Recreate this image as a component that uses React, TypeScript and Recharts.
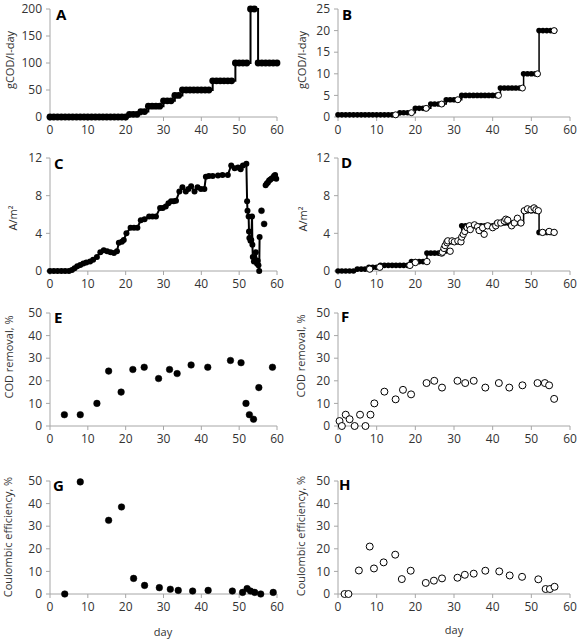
import React from 'react';
import { ComposedChart, Line, Scatter, XAxis, YAxis } from 'recharts';

const xTicks = [0, 10, 20, 30, 40, 50, 60];
const ticksLoadA = [0, 50, 100, 150, 200];
const ticksLoadB = [0, 5, 10, 15, 20, 25];
const ticksCurr = [0, 4, 8, 12];
const ticksPct = [0, 10, 20, 30, 40, 50];

// A: organic loading (step)
const daysA = [0,1,2,3,4,5,6,7,8,9,10,11,12,13,14,15,16,17,18,19,20,21,22,23,24,25,26,27,28,29,30,31,32,33,34,35,36,37,38,39,40,41,42,43,44,45,46,47,48,49,50,51,52,53,54,55,56,57,58,59,60];
const loadA = [0,0,0,0,0,0,0,0,0,0,0,0,0,0,0,0,0,0,0,0,0,5,5,5,10,10,20,20,20,20,30,30,30,40,40,50,50,50,50,50,50,50,50,67,67,67,67,67,67,100,100,100,100,200,200,100,100,100,100,100,100];

// B: organic loading (step) + end-of-step markers
const daysB = [0,1,2,3,4,5,6,7,8,9,10,11,12,13,14,15,16,17,18,19,20,21,22,23,24,25,26,27,28,29,30,31,32,33,34,35,36,37,38,39,40,41,42,43,44,45,46,47,48,49,50,51,52,53,54,55,56];
const loadB = [0.5,0.5,0.5,0.5,0.5,0.5,0.5,0.5,0.5,0.5,0.5,0.5,0.5,0.5,0.5,0.5,1,1,1,1,2,2,2,2,3,3,3,3,4,4,4,4,5,5,5,5,5,5,5,5,5,5,6.7,6.7,6.7,6.7,6.7,6.7,10,10,10,10,20,20,20,20,20];
const endDaysB = [14.9,19,22.8,26.8,31,41.5,47.7,51.6,55.9];
const endLoadB = [0.5,1,2,3,4,5,6.7,10,20];

// C: current density
const daysC = [0,1,2,3,4,5,5.8,6.5,7.2,8,8.8,9.6,10.6,11.4,12.4,13.3,14.2,15.1,16,16.9,17.7,18.2,19,19.5,20.2,21.3,22.2,23.1,24,25,26.2,27.1,28,29.1,29.8,30.6,31.3,32,32.7,33.3,34.2,35,35.9,36.6,37.3,38.2,39,39.9,40.8,41.2,42,43,44.4,45.6,47,47.9,48.8,49.7,50.4,51,51.9,52.1,52.2,52.5,52.6,52.7,53.0,53.2,53.4,53.5,53.6,53.9,54.2,54.4,54.7,54.9,55.1,55.3,55.4];
const currC = [0,0,0,0,0,0,0.1,0.3,0.5,0.65,0.8,0.9,1.0,1.2,1.5,2.0,2.2,2.1,2.0,1.9,2.1,3.0,3.1,3.3,4.0,4.6,4.6,4.6,5.4,5.5,5.8,5.8,5.8,6.7,6.7,6.85,7.2,7.4,7.4,7.45,8.45,8.9,8.45,8.7,9.0,8.45,8.9,8.7,8.7,10.0,10.1,10.1,10.15,10.2,10.2,11.2,10.9,11.0,10.8,11.2,11.4,7.4,6.4,5.8,4.2,3.5,3.2,3.3,5.8,2.8,1.5,1.0,1.2,2.0,0.8,1.1,0.6,0,3.6];
const daysC2 = [55.9, 56.6];
const currC2 = [6.4, 5.0];
const daysC3 = [57,57.3,57.6,57.9,58.2,58.5,58.9,59.2,59.5,59.8];
const currC3 = [9.1,9.3,9.4,9.6,9.7,9.8,9.9,10.1,10.2,9.8];

// D: set current (step) + measured
const daysD = [0,1,2,3,4,5,6,7,8,9,10,11,12,13,14,15,16,17,18,19,20,21,22,23,24,25,26,27,28,29,30,31,32,33,34,35,36,37,38,39,40,41,42,43,44,45,46,47,48,49,50,51,52,53,54,55,56];
const setD = [0,0,0,0,0,0.2,0.2,0.2,0.4,0.4,0.4,0.6,0.6,0.6,0.6,0.6,0.6,0.6,0.6,1.0,1.0,1.0,1.0,1.9,1.9,1.9,1.9,1.9,3.1,3.1,3.1,3.1,4.8,4.8,4.8,4.8,4.8,4.8,4.8,4.8,4.8,5.1,5.1,5.1,5.1,5.1,5.1,5.1,6.4,6.4,6.4,6.4,4.1,4.1,4.1,4.1,4.1];
const measDaysD = [8.2,10.8,18.6,20,23,26.8,27,27.4,27.7,28.2,28.4,29,29.5,30.1,31,31.8,32,32.4,32.8,33.4,34,34.2,35.3,36.1,36.5,37.4,37.8,38.7,40,40.8,41.3,42.1,43,43.4,43.9,44.9,45.6,46.4,47.3,48.2,49,49.9,50.7,51.2,51.8,52.9,54.6,55.9];
const measD = [0.2,0.4,0.6,0.9,1.0,1.9,2.0,2.4,2.7,3.0,3.2,2.1,3.2,3.1,3.2,3.1,3.6,3.9,4.2,4.6,4.8,4.4,4.9,4.7,4.3,4.6,3.9,4.8,4.6,4.8,5.1,5.1,5.3,5.5,5.4,4.8,5.1,5.6,5.1,6.4,6.6,6.5,6.7,6.5,6.4,4.1,4.2,4.1];

// E / F: COD removal
const daysE = [3.8,8,12.4,15.5,18.8,21.9,24.9,28.7,31.6,33.6,37.3,41.7,47.7,50.5,51.8,52.7,53.8,55.2,58.8];
const codE = [5,5,10,24.3,15,25,26,21,25,23.2,27,26,29,28,10,5,3,17,26];
const daysF = [0.4,1,2,3,4.3,5.7,7.1,8.4,9.4,12,14.9,16.8,18.9,22.9,24.9,26.9,30.9,32.9,35.1,38.1,41.6,44.3,47.7,51.6,53.5,54.6,55.9];
const codF = [2.2,0,5,3,0,5,0,5,10,15.2,11.8,16,14,19,20,17,20,19,20,17,19,17,18,19,19,18,12];

// G / H: Coulombic efficiency
const daysG = [3.9,8,15.5,18.9,22.1,25,28.9,31.8,33.9,37.7,41.8,48.2,50.9,52.1,53,54.1,55.7,59];
const ceG = [0,49.6,32.6,38.5,6.9,3.8,2.8,2.1,1.6,1.3,1.6,1.3,0.7,2.4,1.3,0.7,0,0.7];
const daysH = [1.7,2.7,5.4,8.2,9.3,11.8,14.8,16.5,18.8,22.7,24.8,26.9,30.9,32.8,35.1,38.1,41.7,44.4,47.6,51.8,53.7,54.8,56];
const ceH = [0,0,10.4,21,11.3,14,17.4,6.6,10.3,4.9,5.9,6.9,7.2,8.5,9,10.3,10,8.2,7.6,6.5,2.2,2.2,3.2];

const pts = (xs: number[], ys: number[]) => xs.map((x, i) => ({ x, y: ys[i] }));

const FONT = '"Open Sans", "Liberation Sans", sans-serif';
const AXIS = '#a6a6a6';
const TXT = '#333';

const filledDot = (r: number) => (p: any) => <circle cx={p.cx} cy={p.cy} r={r} fill="#000" stroke="#000" strokeWidth={0.5} />;
const openDot = (r: number) => (p: any) => <circle cx={p.cx} cy={p.cy} r={r} fill="#fff" stroke="#000" strokeWidth={1} />;

const MT = 10;
const XH = 24;

function Panel(props: { side: 'L' | 'R'; plotTop: number; plotH?: number; domain: [number, number]; yTicks: number[]; children: any }) {
  const { side, plotTop, domain, yTicks, children } = props;
  const plotH = props.plotH ?? 113;
  const CH = MT + plotH + XH;
  const left = side === 'L' ? 0 : 288;
  const mr = side === 'L' ? 13 : 8;
  return (
    <div style={{ position: 'absolute', left, top: plotTop - MT, width: 290, height: CH }}>
      <ComposedChart width={290} height={CH} margin={{ top: MT, right: mr, bottom: 0, left: 20 }}>
        <XAxis
          type="number"
          dataKey="x"
          domain={[0, 60]}
          ticks={xTicks}
          interval={0}
          height={XH}
          stroke={AXIS}
          tickSize={4}
          tickMargin={4}
          tick={{ fill: TXT, fontSize: 12, fontFamily: FONT }}
        />
        <YAxis
          type="number"
          dataKey="y"
          domain={domain}
          ticks={yTicks}
          interval={0}
          width={30}
          stroke={AXIS}
          tickSize={4}
          tickMargin={4}
          tick={{ fill: TXT, fontSize: 12, fontFamily: FONT }}
        />
        {children}
      </ComposedChart>
    </div>
  );
}

function VLabel(props: { x: number; y: number; text: string }) {
  return (
    <div
      style={{
        position: 'absolute',
        left: props.x,
        top: props.y,
        transform: 'translate(-50%, -50%) rotate(-90deg)',
        whiteSpace: 'nowrap',
        fontSize: 11,
        fontFamily: FONT,
        color: TXT,
        lineHeight: '14px',
      }}
    >
      {props.text}
    </div>
  );
}

function Letter(props: { x: number; y: number; text: string }) {
  return (
    <div
      style={{
        position: 'absolute',
        left: props.x,
        top: props.y - 10,
        fontSize: 15,
        fontWeight: 700,
        fontFamily: FONT,
        color: '#000',
        lineHeight: '20px',
      }}
    >
      {props.text}
    </div>
  );
}

function HLabel(props: { x: number; y: number; text: string }) {
  return (
    <div
      style={{
        position: 'absolute',
        left: props.x,
        top: props.y,
        transform: 'translate(-50%, -50%)',
        whiteSpace: 'nowrap',
        fontSize: 11,
        fontFamily: FONT,
        color: TXT,
        lineHeight: '14px',
      }}
    >
      {props.text}
    </div>
  );
}

export default function App() {
  const stepDot = { r: 3.4, fill: '#000', stroke: '#000', strokeWidth: 0 };
  const stepDotB = { r: 2.8, fill: '#000', stroke: '#000', strokeWidth: 0 };
  const curDot = { r: 3, fill: '#000', stroke: '#000', strokeWidth: 0 };
  return (
    <div style={{ position: 'absolute', left: 0, top: 0, width: 578, height: 640, background: '#fff', fontFamily: FONT, overflow: 'hidden' }}>
      {/* Row 1 */}
      <Panel side="L" plotTop={9} plotH={108} domain={[0, 200]} yTicks={ticksLoadA}>
        <Line data={pts(daysA, loadA)} dataKey="y" type="stepAfter" stroke="#000" strokeWidth={2} dot={stepDot} activeDot={false} isAnimationActive={false} />
      </Panel>
      <Panel side="R" plotTop={9} plotH={108} domain={[0, 25]} yTicks={ticksLoadB}>
        <Line data={pts(daysB, loadB)} dataKey="y" type="stepAfter" stroke="#000" strokeWidth={1.5} dot={stepDotB} activeDot={false} isAnimationActive={false} />
        <Scatter data={pts(endDaysB, endLoadB)} dataKey="y" shape={openDot(3)} isAnimationActive={false} />
      </Panel>

      {/* Row 2 */}
      <Panel side="L" plotTop={158} domain={[0, 12]} yTicks={ticksCurr}>
        <Line data={pts(daysC, currC)} dataKey="y" type="linear" stroke="#000" strokeWidth={2} dot={curDot} activeDot={false} isAnimationActive={false} />
        <Scatter data={pts(daysC2, currC2)} dataKey="y" shape={filledDot(3)} isAnimationActive={false} />
        <Line data={pts(daysC3, currC3)} dataKey="y" type="linear" stroke="#000" strokeWidth={2} dot={curDot} activeDot={false} isAnimationActive={false} />
      </Panel>
      <Panel side="R" plotTop={158} domain={[0, 12]} yTicks={ticksCurr}>
        <Line data={pts(daysD, setD)} dataKey="y" type="stepAfter" stroke="#000" strokeWidth={1.5} dot={stepDotB} activeDot={false} isAnimationActive={false} />
        <Scatter data={pts(measDaysD, measD)} dataKey="y" shape={openDot(3.2)} isAnimationActive={false} />
      </Panel>

      {/* Row 3 */}
      <Panel side="L" plotTop={313} domain={[0, 50]} yTicks={ticksPct}>
        <Scatter data={pts(daysE, codE)} dataKey="y" shape={filledDot(3.3)} isAnimationActive={false} />
      </Panel>
      <Panel side="R" plotTop={313} domain={[0, 50]} yTicks={ticksPct}>
        <Scatter data={pts(daysF, codF)} dataKey="y" shape={openDot(3.5)} isAnimationActive={false} />
      </Panel>

      {/* Row 4 */}
      <Panel side="L" plotTop={481} domain={[0, 50]} yTicks={ticksPct}>
        <Scatter data={pts(daysG, ceG)} dataKey="y" shape={filledDot(3.3)} isAnimationActive={false} />
      </Panel>
      <Panel side="R" plotTop={481} domain={[0, 50]} yTicks={ticksPct}>
        <Scatter data={pts(daysH, ceH)} dataKey="y" shape={openDot(3.5)} isAnimationActive={false} />
      </Panel>

      {/* Axis titles */}
      <VLabel x={10} y={60} text="gCOD/l-day" />
      <VLabel x={302} y={60} text="gCOD/l-day" />
      <VLabel x={13} y={218} text="A/m²" />
      <VLabel x={303} y={219} text="A/m²" />
      <VLabel x={9} y={357} text="COD removal, %" />
      <VLabel x={301} y={356} text="COD removal, %" />
      <VLabel x={8} y={537} text="Coulombic efficiency, %" />
      <VLabel x={301} y={536} text="Coulombic efficiency, %" />
      <HLabel x={163} y={632} text="day" />
      <HLabel x={454} y={630} text="day" />

      {/* Panel letters */}
      <Letter x={56} y={14} text="A" />
      <Letter x={342} y={14} text="B" />
      <Letter x={54} y={163} text="C" />
      <Letter x={341} y={162} text="D" />
      <Letter x={54} y={317} text="E" />
      <Letter x={341} y={316} text="F" />
      <Letter x={53} y={485} text="G" />
      <Letter x={339} y={484} text="H" />
    </div>
  );
}
